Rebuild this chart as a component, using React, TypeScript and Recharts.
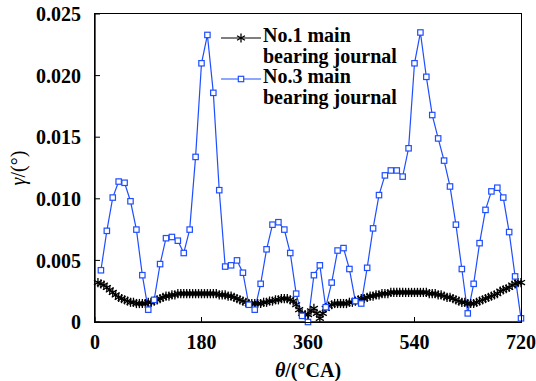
import { Label, Legend, Line, LineChart, XAxis, YAxis } from "recharts";

const FONT = '"Liberation Serif", "Times New Roman", serif';
const BLUE = "#1f4eff";
const INK = "#000";

const xTicks = [0, 180, 360, 540, 720];
const yTicks = [0, 0.005, 0.01, 0.015, 0.02, 0.025];

// No.3 main bearing journal (every 10 °CA)
const journal3Angles = [
  10, 20, 30, 40, 50, 60, 70, 80, 90, 100, 110, 120, 130, 140, 150, 160, 170, 180,
  190, 200, 210, 220, 230, 240, 250, 260, 270, 280, 290, 300, 310, 320, 330, 340, 350, 360,
  370, 380, 390, 400, 410, 420, 430, 440, 450, 460, 470, 480, 490, 500, 510, 520, 530, 540,
  550, 560, 570, 580, 590, 600, 610, 620, 630, 640, 650, 660, 670, 680, 690, 700, 710, 720,
];
const journal3Values = [
  0.0042, 0.0074, 0.0101, 0.0114, 0.0113, 0.0098, 0.0075, 0.0038, 0.001, 0.0018, 0.0047, 0.0068,
  0.0069, 0.0066, 0.0056, 0.0075, 0.0134, 0.021, 0.0233, 0.0186, 0.0107, 0.0045, 0.0046, 0.005,
  0.004, 0.0014, 0.001, 0.0031, 0.0059, 0.0079, 0.0081, 0.0075, 0.0056, 0.0023, 0.0005, 0.0,
  0.0038, 0.0046, 0.0012, 0.0032, 0.0058, 0.006, 0.0043, 0.0017, 0.0015, 0.0044, 0.0076, 0.0103,
  0.0119, 0.0123, 0.0123, 0.0118, 0.0141, 0.021, 0.0235, 0.0199, 0.0168, 0.0149, 0.0131, 0.011,
  0.0079, 0.0043, 0.0007, 0.0031, 0.0064, 0.0091, 0.0106, 0.0109, 0.0101, 0.0073, 0.0037, 0.0003,
];

// No.1 main bearing journal (every 5 °CA)
const journal1Angles = [
  5, 10, 15, 20, 25, 30, 35, 40, 45, 50, 55, 60, 65, 70, 75, 80, 85, 90, 95, 100, 105, 110, 115,
  120, 125, 130, 135, 140, 145, 150, 155, 160, 165, 170, 175, 180, 185, 190, 195, 200, 205, 210,
  215, 220, 225, 230, 235, 240, 245, 250, 255, 260, 265, 270, 275, 280, 285, 290, 295, 300, 305,
  310, 315, 320, 325, 330, 335, 340, 345, 350, 355, 360, 365, 370, 375, 380, 385, 390, 395, 400,
  405, 410, 415, 420, 425, 430, 435, 440, 445, 450, 455, 460, 465, 470, 475, 480, 485, 490, 495,
  500, 505, 510, 515, 520, 525, 530, 535, 540, 545, 550, 555, 560, 565, 570, 575, 580, 585, 590,
  595, 600, 605, 610, 615, 620, 625, 630, 635, 640, 645, 650, 655, 660, 665, 670, 675, 680, 685,
  690, 695, 700, 705, 710, 715, 720,
];
const journal1Values = [
  0.0032, 0.0031, 0.003, 0.0028, 0.0026, 0.0024, 0.0022, 0.002, 0.0019, 0.0018, 0.0017, 0.0016,
  0.0016, 0.0015, 0.0015, 0.0015, 0.0015, 0.0016, 0.0016, 0.0017, 0.0018, 0.0019, 0.002, 0.0021,
  0.0021, 0.0022, 0.0022, 0.0023, 0.0023, 0.0023, 0.0023, 0.0023, 0.0023, 0.0023, 0.0023, 0.0023,
  0.0023, 0.0023, 0.0023, 0.0023, 0.0023, 0.0022, 0.0022, 0.0022, 0.0021, 0.0021, 0.002, 0.0019,
  0.0018, 0.0017, 0.0016, 0.0015, 0.0015, 0.0015, 0.0015, 0.0015, 0.0016, 0.0016, 0.0017, 0.0017,
  0.0018, 0.0018, 0.0019, 0.0019, 0.0019, 0.0018, 0.0017, 0.0014, 0.001, 0.0007, 0.0006, 0.0006,
  0.0009, 0.0011, 0.0007, 0.0003, 0.0007, 0.0011, 0.0013, 0.0014, 0.0015, 0.0015, 0.0015, 0.0015,
  0.0015, 0.0016, 0.0016, 0.0017, 0.0018, 0.0019, 0.0019, 0.002, 0.0021, 0.0021, 0.0022, 0.0022,
  0.0023, 0.0023, 0.0023, 0.0024, 0.0024, 0.0024, 0.0024, 0.0024, 0.0024, 0.0024, 0.0024, 0.0024,
  0.0024, 0.0024, 0.0024, 0.0024, 0.0023, 0.0023, 0.0023, 0.0022, 0.0022, 0.0021, 0.002, 0.002,
  0.0019, 0.0018, 0.0017, 0.0016, 0.0016, 0.0015, 0.0015, 0.0015, 0.0016, 0.0017, 0.0018, 0.0019,
  0.002, 0.0021, 0.0022, 0.0023, 0.0025, 0.0026, 0.0027, 0.0028, 0.003, 0.0031, 0.0032, 0.0032,
];

// one table on the 5 °CA grid; No.3 only has values every 10 °CA
const table = journal1Angles.map((angle, i) => {
  const k = journal3Angles.indexOf(angle);
  return { angle, j1: journal1Values[i], j3: k >= 0 ? journal3Values[k] : null };
});

const PLOT = { left: 95, top: 14, width: 426, height: 308 };

function Asterisk({ cx, cy, r = 4.6 }: { cx: number; cy: number; r?: number }) {
  const dx = r * Math.cos(Math.PI / 6);
  const dy = r * Math.sin(Math.PI / 6);
  return (
    <g stroke={INK} strokeWidth={1.3}>
      <line x1={cx} y1={cy - r} x2={cx} y2={cy + r} />
      <line x1={cx - dx} y1={cy - dy} x2={cx + dx} y2={cy + dy} />
      <line x1={cx - dx} y1={cy + dy} x2={cx + dx} y2={cy - dy} />
    </g>
  );
}

function Square({ cx, cy }: { cx: number; cy: number }) {
  return <rect x={cx - 2.7} y={cy - 2.7} width={5.4} height={5.4} fill="#fff" stroke={BLUE} strokeWidth={1.2} />;
}

const tickStyle = { fill: INK, fontSize: 20, fontWeight: "bold", fontFamily: FONT };
const frame = { stroke: INK, strokeWidth: 1.3 };

function XTitle({ viewBox }: any) {
  const x = viewBox.x + viewBox.width / 2;
  return (
    <text x={x} y={377} textAnchor="middle" fontFamily={FONT} fontSize={20} fontWeight="bold" fill={INK}>
      <tspan fontStyle="italic">θ</tspan>/(°CA)
    </text>
  );
}

function YTitle({ viewBox }: any) {
  const x = 18;
  const y = viewBox.y + viewBox.height / 2;
  return (
    <text
      x={x}
      y={y}
      transform={`rotate(-90 ${x} ${y})`}
      textAnchor="middle"
      dominantBaseline="central"
      fontFamily={FONT}
      fontSize={20}
      fill={INK}
    >
      <tspan fontStyle="italic">γ</tspan>/(°)
    </text>
  );
}

function LegendBox() {
  const row = (marker: "star" | "square", line1: string, color: string) => (
    <div style={{ display: "flex", alignItems: "flex-start" }}>
      <svg width={45} height={41} style={{ display: "block" }}>
        <line x1={3} y1={13} x2={43} y2={13} stroke={color} strokeWidth={1.2} />
        {marker === "star" ? <Asterisk cx={23} cy={13} /> : <Square cx={23} cy={13} />}
      </svg>
      <div>
        {line1}
        <br />
        bearing journal
      </div>
    </div>
  );
  return (
    <div style={{ fontFamily: FONT, fontSize: 20, fontWeight: "bold", lineHeight: "20.5px", color: INK }}>
      {row("star", "No.1 main", INK)}
      {row("square", "No.3 main", BLUE)}
    </div>
  );
}

export default function App() {
  return (
    <div style={{ position: "absolute", left: 0, top: 0, width: 536, height: 381, background: "#fff" }}>
      <LineChart
        width={536}
        height={381}
        data={table}
        margin={{ top: PLOT.top, right: 536 - PLOT.left - PLOT.width, left: 0, bottom: 0 }}
      >
        <XAxis
          dataKey="angle"
          type="number"
          domain={[0, 720]}
          ticks={xTicks}
          height={381 - PLOT.top - PLOT.height}
          stroke={INK}
          tickSize={-5}
          tickMargin={18}
          tick={tickStyle}
          axisLine={frame}
          tickLine={{ stroke: INK }}
        >
          <Label content={XTitle} />
        </XAxis>
        <YAxis
          type="number"
          domain={[0, 0.025]}
          ticks={yTicks}
          width={PLOT.left}
          stroke={INK}
          tickSize={-5}
          tickMargin={19}
          tick={tickStyle}
          tickFormatter={(v: number) => (v === 0 ? "0" : v.toFixed(3))}
          axisLine={frame}
          tickLine={{ stroke: INK }}
        >
          <Label content={YTitle} />
        </YAxis>
        <Legend
          layout="vertical"
          align="center"
          verticalAlign="middle"
          wrapperStyle={{ top: 25, left: 218, width: "auto" }}
          content={() => <LegendBox />}
        />
        <Line
          dataKey="j1"
          stroke={INK}
          strokeWidth={1}
          isAnimationActive={false}
          activeDot={false}
          dot={(p: any) => <Asterisk key={`a${p.index}`} cx={p.cx} cy={p.cy} />}
        />
        <Line
          dataKey="j3"
          connectNulls
          stroke={BLUE}
          strokeWidth={1.2}
          isAnimationActive={false}
          activeDot={false}
          dot={(p: any) =>
            p.value == null || p.cy == null ? (
              <g key={`s${p.index}`} />
            ) : (
              <Square key={`s${p.index}`} cx={p.cx} cy={p.cy} />
            )
          }
        />
      </LineChart>
      {/* plot frame */}
      <div
        style={{
          position: "absolute",
          left: PLOT.left - 0.65,
          top: PLOT.top - 0.65,
          width: PLOT.width + 1.3,
          height: PLOT.height + 1.3,
          border: `1.3px solid ${INK}`,
          boxSizing: "border-box",
          pointerEvents: "none",
        }}
      />
    </div>
  );
}
